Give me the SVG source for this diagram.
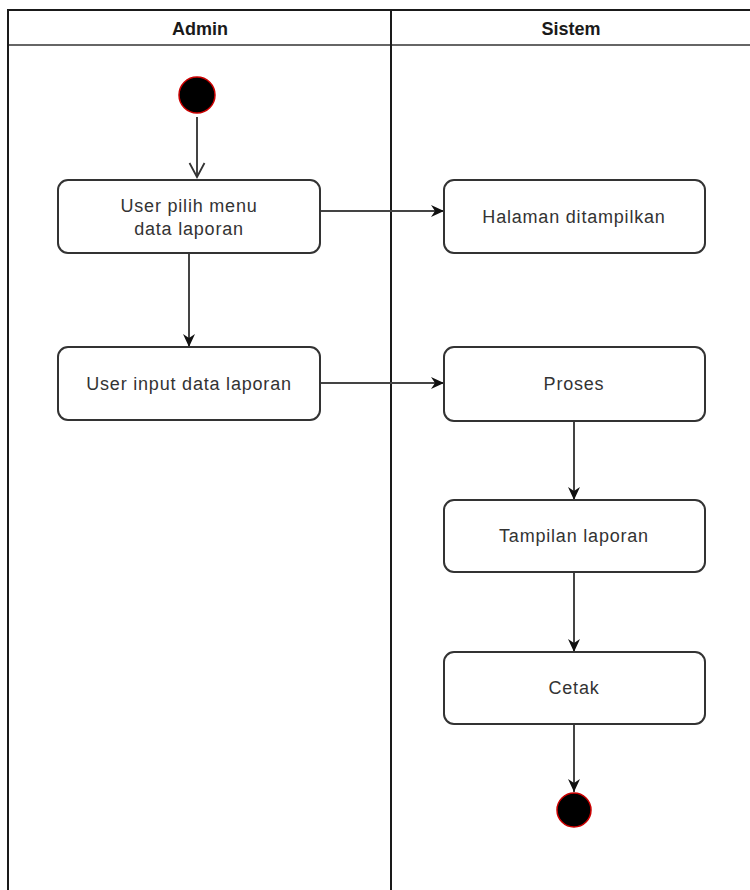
<svg xmlns="http://www.w3.org/2000/svg" width="750" height="890" viewBox="0 0 750 890">
  <style>
    .lane { fill: none; stroke: #1a1a1a; stroke-width: 2; }
    .hdr { font-family: "Liberation Sans", Arial, sans-serif; font-size: 18px; font-weight: bold; fill: #1a1a1a; text-anchor: middle; }
    .act rect { fill: #ffffff; stroke: #333333; stroke-width: 2; }
    .act text { font-family: "Liberation Sans", Arial, sans-serif; font-size: 18px; letter-spacing: 0.8px; fill: #333333; text-anchor: middle; }
    .edge { fill: none; stroke: #444444; stroke-width: 2; }
    .dot { fill: #000000; stroke: #cc0000; stroke-width: 1.5; }
  </style>
  <defs>
    <marker id="arrow" markerWidth="14" markerHeight="14" refX="13" refY="7" orient="auto" markerUnits="userSpaceOnUse">
      <path d="M0,1 L13,7 L0,13 L4,7 Z" fill="#111111"/>
    </marker>
    <marker id="open" markerWidth="18" markerHeight="18" refX="15" refY="9" orient="auto" markerUnits="userSpaceOnUse">
      <path d="M1,1.5 L15,9 L1,16.5" fill="none" stroke="#333333" stroke-width="1.8"/>
    </marker>
  </defs>

  <rect width="750" height="890" fill="#ffffff"/>

  <!-- swimlanes -->
  <g id="lanes">
    <line x1="8" y1="10" x2="750" y2="10" class="lane"/>
    <line x1="8" y1="45" x2="750" y2="45" stroke="#666666" stroke-width="2"/>
    <line x1="8" y1="9" x2="8" y2="890" class="lane"/>
    <line x1="391" y1="10" x2="391" y2="890" class="lane"/>
    <text x="200" y="35" class="hdr">Admin</text>
    <text x="571" y="35" class="hdr">Sistem</text>
  </g>

  <!-- connectors -->
  <g id="connectors">
    <line x1="197" y1="117" x2="197" y2="177" class="edge" marker-end="url(#open)"/>
    <line x1="320" y1="211" x2="444" y2="211" class="edge" marker-end="url(#arrow)"/>
    <line x1="189" y1="253" x2="189" y2="347" class="edge" marker-end="url(#arrow)"/>
    <line x1="320" y1="383" x2="444" y2="383" class="edge" marker-end="url(#arrow)"/>
    <line x1="574" y1="421" x2="574" y2="500" class="edge" marker-end="url(#arrow)"/>
    <line x1="574" y1="572" x2="574" y2="652" class="edge" marker-end="url(#arrow)"/>
    <line x1="574" y1="724" x2="574" y2="792" class="edge" marker-end="url(#arrow)"/>
  </g>

  <!-- nodes -->
  <g id="start">
    <circle cx="197" cy="95" r="18" class="dot"/>
  </g>

  <g id="pilih-menu" class="act">
    <rect x="58" y="180" width="262" height="73" rx="10"/>
    <text x="189" y="212">User pilih menu</text>
    <text x="189" y="235">data laporan</text>
  </g>

  <g id="halaman" class="act">
    <rect x="444" y="180" width="261" height="73" rx="10"/>
    <text x="574" y="223">Halaman ditampilkan</text>
  </g>

  <g id="input-data" class="act">
    <rect x="58" y="347" width="262" height="73" rx="10"/>
    <text x="189" y="390">User input data laporan</text>
  </g>

  <g id="proses" class="act">
    <rect x="444" y="347" width="261" height="74" rx="10"/>
    <text x="574" y="390">Proses</text>
  </g>

  <g id="tampilan" class="act">
    <rect x="444" y="500" width="261" height="72" rx="10"/>
    <text x="574" y="542">Tampilan laporan</text>
  </g>

  <g id="cetak" class="act">
    <rect x="444" y="652" width="261" height="72" rx="10"/>
    <text x="574" y="694">Cetak</text>
  </g>

  <g id="end">
    <circle cx="574" cy="810" r="17" class="dot"/>
  </g>
</svg>
